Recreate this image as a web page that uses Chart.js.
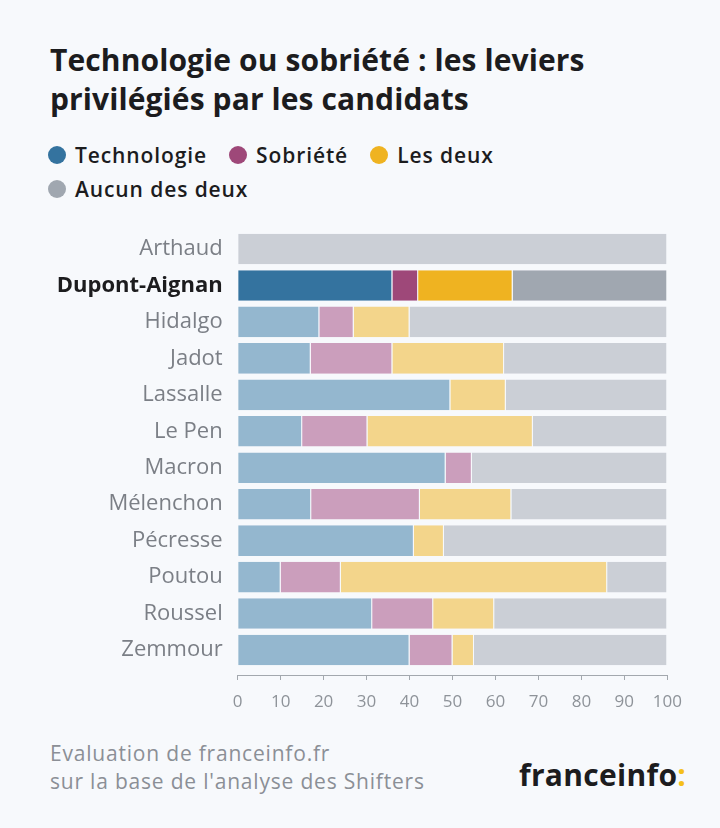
<!DOCTYPE html>
<html lang="fr">
<head>
<meta charset="utf-8">
<script src="https://cdn.jsdelivr.net/npm/chart.js@4.4.1/dist/chart.umd.min.js"></script>
<style>
  html, body { margin: 0; padding: 0; }
  body { width: 720px; height: 828px; background: #f7f9fc; position: relative; overflow: hidden; font-family: "Open Sans", "Noto Sans", sans-serif; }
  #title { position: absolute; left: 50px; top: 40px; font-weight: 700; font-size: 30px; line-height: 39px; color: #1c1c1e; letter-spacing: 0.1px; }
  #legend { position: absolute; left: 48px; top: 138px; width: 540px; }
  .item { display: inline-flex; align-items: center; margin-right: 22px; height: 34px; font-weight: 600; font-size: 21px; letter-spacing: 0.9px; color: #1c1c1e; }
  .dot { width: 18px; height: 18px; border-radius: 50%; margin-right: 9px; }
  #wrap { position: absolute; left: 0; top: 220px; width: 720px; height: 500px; }
  #foot { position: absolute; left: 50px; top: 739px; font-size: 21px; line-height: 28px; letter-spacing: 0.8px; color: #8b8f96; }
  #logo { position: absolute; left: 519px; top: 754px; font-size: 30px; font-weight: 700; color: #1c1c1e; letter-spacing: 0.3px; }
  #logo span { color: #f5c01a; }
</style>
</head>
<body>
<div id="title">Technologie ou sobriété : les leviers<br>privilégiés par les candidats</div>
<div id="legend"></div>
<div id="wrap"><canvas id="c"></canvas></div>
<div id="foot">Evaluation de franceinfo.fr<br>sur la base de l'analyse des Shifters</div>
<div id="logo">franceinfo<span>:</span></div>
<script>
// ---- data ----
const candidates = ["Arthaud", "Dupont-Aignan", "Hidalgo", "Jadot", "Lassalle", "Le Pen", "Macron", "Mélenchon", "Pécresse", "Poutou", "Roussel", "Zemmour"];
const seriesNames = ["Technologie", "Sobriété", "Les deux", "Aucun des deux"];
const technologie = [0, 36, 19, 17, 49.5, 15, 48.4, 17.1, 41, 10, 31.3, 40];
const sobriete    = [0, 6, 8, 19, 0, 15.2, 6.1, 25.3, 0, 14, 14.2, 10];
const lesDeux     = [0, 22, 13, 26, 12.9, 38.5, 0, 21.3, 7, 62, 14.2, 5];
const aucun       = [100, 36, 60, 38, 37.6, 31.3, 45.5, 36.3, 52, 14, 40.3, 45];
const xTicks = [0, 10, 20, 30, 40, 50, 60, 70, 80, 90, 100];
const highlighted = "Dupont-Aignan";

// ---- styles ----
const darkColors  = ["#34739f", "#9e4879", "#efb321", "#a0a7b0"];
const lightColors = ["#94b7cf", "#cb9ebc", "#f3d58b", "#cbcfd6"];
const bg = "#f7f9fc";

// legend (HTML, built from the series arrays)
const leg = document.getElementById('legend');
seriesNames.forEach((n, i) => {
  const d = document.createElement('div');
  d.className = 'item';
  d.innerHTML = '<span class="dot" style="background:' + darkColors[i] + '"></span>' + n;
  leg.appendChild(d);
});

const hiIdx = candidates.indexOf(highlighted);
const allSeries = [technologie, sobriete, lesDeux, aucun];
const datasets = allSeries.map((vals, s) => ({
  label: seriesNames[s],
  data: vals.map((v, i) => ({ x: v, y: i })),
  backgroundColor: ctx => (ctx.raw && ctx.raw.y === hiIdx) ? darkColors[s] : lightColors[s],
  borderColor: bg,
  borderWidth: { left: 0, right: 1, top: 0, bottom: 0 },
  borderSkipped: false,
  categoryPercentage: 1,
  barPercentage: 0.84
}));

new Chart(document.getElementById('c'), {
  type: 'bar',
  data: { datasets },
  options: {
    indexAxis: 'y',
    responsive: true,
    maintainAspectRatio: false,
    animation: false,
    layout: { padding: { top: 10.8, right: 52.7, bottom: 0, left: 0 } },
    plugins: { legend: { display: false }, tooltip: { enabled: false } },
    scales: {
      x: {
        type: 'linear',
        stacked: true,
        min: 0, max: 100,
        afterBuildTicks: s => { s.ticks = xTicks.map(v => ({ value: v })); },
        afterFit: s => { s.height = 45; },
        grid: { drawOnChartArea: false, drawTicks: true, tickLength: 5, color: '#a3a8ae', lineWidth: 1 },
        border: { display: true, color: '#a3a8ae', width: 1 },
        ticks: { color: '#8e9399', font: { family: 'Open Sans', size: 17 }, padding: 12, maxRotation: 0 }
      },
      y: {
        type: 'linear',
        stacked: true,
        reverse: true,
        offset: false,
        min: -0.5, max: 11.686,
        afterBuildTicks: s => { s.ticks = candidates.map((_, i) => ({ value: i })); },
        afterFit: s => { s.width = 237.7; s.paddingTop = 0; s.paddingBottom = 0; },
        grid: { display: false, drawTicks: false },
        border: { display: false },
        ticks: {
          padding: 15,
          callback: v => candidates[v],
          color: ctx => candidates[ctx.index] === highlighted ? '#1c1c1e' : '#7b7f86',
          font: ctx => ({ family: 'Open Sans', size: 22, weight: candidates[ctx.index] === highlighted ? '700' : '400' })
        }
      }
    }
  }
});
</script>
</body>
</html>
